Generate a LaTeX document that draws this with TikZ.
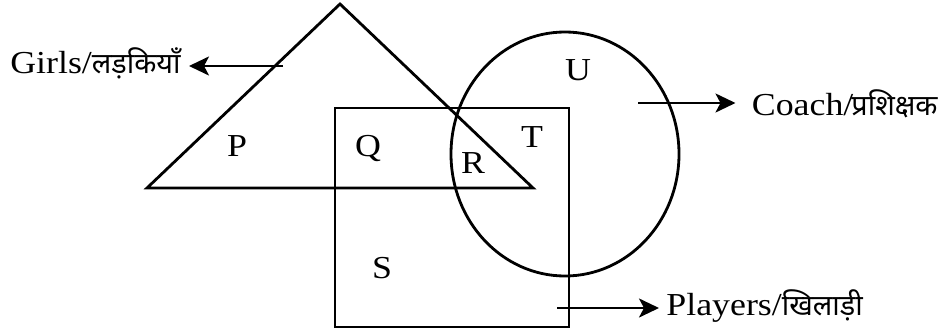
\documentclass[tikz,border=0pt]{standalone}
\usepackage{fontspec}
\setmainfont{Liberation Serif}[FakeStretch=1.12]
\newfontfamily\hindi[Script=Devanagari, Scale=0.9]{Noto Sans}
\usetikzlibrary{arrows.meta,positioning}

\begin{document}
\begin{tikzpicture}[x=0.5pt, y=-0.5pt,
    setline/.style={line width=1.4pt},
    region/.style={font=\fontsize{16}{19}\selectfont, inner sep=0pt},
    tag/.style={font=\fontsize{16}{19}\selectfont, inner sep=0pt},
    arrow/.style={-{Stealth[length=10pt, width=9.5pt, inset=2.5pt]}, line width=1.2pt}
]
\useasboundingbox (0,0) rectangle (942,332);

% the three sets
\draw[setline] (340,4) -- (533,188) -- (147,188) -- cycle;
\draw[setline] (335,108) rectangle (569,327);
\draw[setline] (565,154) ellipse [x radius=114, y radius=122];

\node[region] (p) at (237,146) {P};
\node[region] (q) at (368,148) {Q};
\node[region] (r) at (473,163) {R};
\node[region] (t) at (532,137) {T};
\node[region] (u) at (578,70) {U};
\node[region] (s) at (382,268) {S};

\node[tag, anchor=base east] (girls) at (181,73) {Girls/{\hindi लड़कियाँ}};
\node[tag, anchor=base east] (coach) at (938,115) {Coach/{\hindi \kern-1pt प्रशिक्षक}};
\node[tag, anchor=base west] (players) at (666,315) {Players/{\hindi खिलाड़ी}};

\coordinate (girlsfrom) at (283,66);
\coordinate (coachfrom) at (638,103);
\coordinate (playersfrom) at (557,308);

\draw[arrow, shorten >=4pt] (girlsfrom) -- (girlsfrom -| girls.east);
\draw[arrow, shorten >=8pt] (coachfrom) -- (coachfrom -| coach.west);
\draw[arrow, shorten >=3.5pt] (playersfrom) -- (playersfrom -| players.west);

\end{tikzpicture}
\end{document}
